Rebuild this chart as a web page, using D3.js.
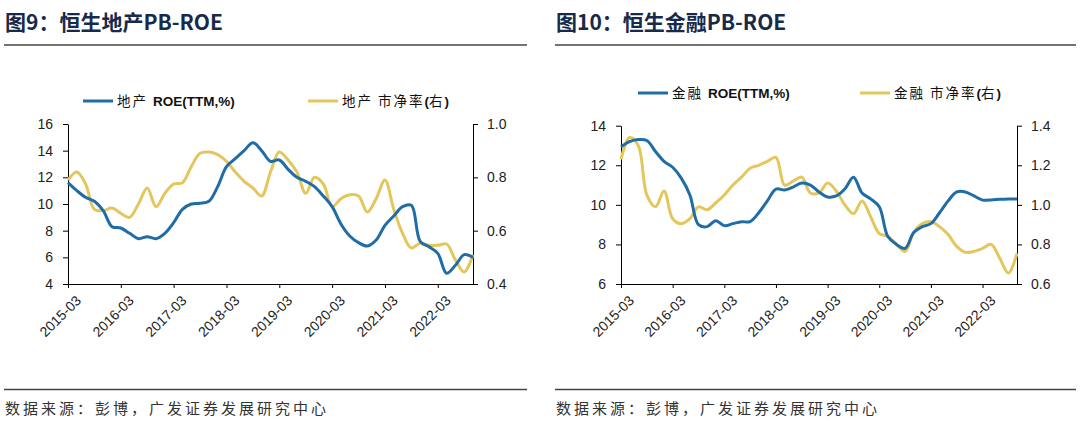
<!DOCTYPE html>
<html>
<head>
<meta charset="utf-8">
<script src="https://cdn.jsdelivr.net/npm/d3@7"></script>
<style>
  body { margin: 0; background: #fff; }
  svg { display: block; font-family: "Liberation Sans", Arial, "Noto Sans CJK SC", sans-serif; }
  .cjk { font-family: "Noto Sans CJK SC", sans-serif; }
  .axis path, .axis line { stroke: #000; stroke-width: 1; }
  .axis text { fill: #222; font-size: 14px; font-family: "Liberation Sans", Arial, sans-serif; }
</style>
</head>
<body>
<svg id="chart" width="1080" height="422"></svg>
<script>
// bimonthly categories
const months = [
  "2015-03","2015-05","2015-07","2015-09","2015-11",
  "2016-01","2016-03","2016-05","2016-07","2016-09","2016-11",
  "2017-01","2017-03","2017-05","2017-07","2017-09","2017-11",
  "2018-01","2018-03","2018-05","2018-07","2018-09","2018-11",
  "2019-01","2019-03","2019-05","2019-07","2019-09","2019-11",
  "2020-01","2020-03","2020-05","2020-07","2020-09","2020-11",
  "2021-01","2021-03","2021-05","2021-07","2021-09","2021-11",
  "2022-01","2022-03","2022-05","2022-07","2022-09","2022-11"
];
const xTicks = ["2015-03","2016-03","2017-03","2018-03","2019-03","2020-03","2021-03","2022-03"];

// 恒生地产
const propertyRoe = [
  11.6, 11.0, 10.5, 10.2, 9.5, 8.3, 8.2, 7.8, 7.4, 7.55, 7.4, 7.8,
  8.6, 9.6, 10.0, 10.05, 10.2, 11.3, 12.8, 13.4, 14.0, 14.6, 14.0, 13.2,
  13.3, 12.6, 12.0, 11.7, 11.3, 10.6, 9.8, 8.5, 7.6, 7.1, 6.85, 7.3,
  8.4, 9.1, 9.8, 9.9, 7.2, 6.8, 6.3, 4.8, 5.4, 6.2, 6.0
];
const propertyPb = [
  0.79, 0.82, 0.775, 0.68, 0.675, 0.685, 0.665, 0.65, 0.70, 0.76, 0.69, 0.74,
  0.775, 0.78, 0.84, 0.89, 0.895, 0.885, 0.86, 0.82, 0.785, 0.76, 0.73, 0.82,
  0.895, 0.865, 0.82, 0.74, 0.80, 0.775, 0.69, 0.72, 0.735, 0.73, 0.67, 0.72,
  0.79, 0.68, 0.59, 0.535, 0.553, 0.545, 0.545, 0.55, 0.49, 0.445, 0.51
];

// 恒生金融
const financeRoe = [
  12.94, 13.2, 13.3, 13.25, 12.7, 12.2, 11.9, 11.35, 10.5, 9.0, 8.9, 9.2,
  8.95, 9.05, 9.15, 9.15, 9.6, 10.2, 10.8, 10.75, 10.9, 11.1, 11.0, 10.65,
  10.4, 10.45, 10.8, 11.4, 10.6, 10.3, 9.9, 8.4, 8.0, 7.8, 8.6, 8.9,
  9.05, 9.6, 10.2, 10.65, 10.65, 10.45, 10.24, 10.25, 10.28, 10.3, 10.3
];
const financePb = [
  1.23, 1.34, 1.30, 1.05, 0.99, 1.07, 0.93, 0.905, 0.93, 0.99, 0.975, 1.01,
  1.05, 1.10, 1.14, 1.185, 1.20, 1.22, 1.24, 1.10, 1.12, 1.14, 1.06, 1.06,
  1.11, 1.07, 1.00, 0.955, 1.02, 0.94, 0.855, 0.84, 0.80, 0.765, 0.86, 0.905,
  0.915, 0.89, 0.85, 0.79, 0.76, 0.765, 0.78, 0.80, 0.73, 0.655, 0.755
];

const leftTicksProperty = [4, 6, 8, 10, 12, 14, 16];
const rightTicksProperty = [0.4, 0.6, 0.8, 1.0];
const leftTicksFinance = [6, 8, 10, 12, 14];
const rightTicksFinance = [0.6, 0.8, 1.0, 1.2, 1.4];

const blue = "#1f6ca6";
const gold = "#e3c65c";
const source = "数据来源：彭博，广发证券发展研究中心";

const svg = d3.select("#chart");

function drawPanel(p) {
  const g = svg.append("g");

  // title + rule
  g.append("text")
    .attr("x", p.x0 + 1).attr("y", 30)
    .attr("fill", "#172a4a")
    .attr("font-size", 21).attr("font-weight", "bold")
    .attr("class", "cjk")
    .text(p.title);
  g.append("line")
    .attr("x1", p.x0).attr("x2", p.x1).attr("y1", 45).attr("y2", 45)
    .attr("stroke", "#444").attr("stroke-width", 1.6);

  // footer
  g.append("line")
    .attr("x1", p.x0).attr("x2", p.x1).attr("y1", 389.5).attr("y2", 389.5)
    .attr("stroke", "#444").attr("stroke-width", 1.6);
  g.append("text")
    .attr("x", p.x0 + 1).attr("y", 414)
    .attr("class", "cjk")
    .attr("font-size", 15).attr("letter-spacing", 3)
    .attr("fill", "#333")
    .text(source);

  const x = d3.scalePoint().domain(months).range([p.l, p.r]);
  const yL = d3.scaleLinear().domain(d3.extent(p.leftTicks)).range([p.b, p.t]);
  const yR = d3.scaleLinear().domain(d3.extent(p.rightTicks)).range([p.b, p.t]);

  g.append("g").attr("class", "axis")
    .attr("transform", `translate(${p.l},0)`)
    .call(d3.axisLeft(yL).tickValues(p.leftTicks).tickSize(5).tickSizeOuter(0).tickPadding(10).tickFormat(d3.format("d")));
  g.append("g").attr("class", "axis")
    .attr("transform", `translate(${p.r},0)`)
    .call(d3.axisRight(yR).tickValues(p.rightTicks).tickSize(5).tickSizeOuter(0).tickPadding(9).tickFormat(d3.format(".1f")));

  const xa = g.append("g").attr("class", "axis")
    .attr("transform", `translate(0,${p.b})`)
    .call(d3.axisBottom(x).tickValues(xTicks).tickSize(4).tickSizeOuter(0));
  xa.selectAll("text")
    .attr("font-size", 14)
    .attr("text-anchor", "end")
    .attr("dy", "0.35em")
    .attr("transform", "translate(5,9) rotate(-45)");

  const lineL = d3.line()
    .x((d, i) => x(months[i])).y(d => yL(d))
    .curve(d3.curveCatmullRom.alpha(0.5));
  const lineR = d3.line()
    .x((d, i) => x(months[i])).y(d => yR(d))
    .curve(d3.curveCatmullRom.alpha(0.5));

  g.append("path").datum(p.pb).attr("d", lineR)
    .attr("fill", "none").attr("stroke", gold).attr("stroke-width", 3);
  g.append("path").datum(p.roe).attr("d", lineL)
    .attr("fill", "none").attr("stroke", blue).attr("stroke-width", 3);

  // legend
  p.legend.forEach(item => {
    g.append("line")
      .attr("x1", item.x).attr("x2", item.x + 30)
      .attr("y1", p.legendY).attr("y2", p.legendY)
      .attr("stroke", item.color).attr("stroke-width", 3);
    const t = g.append("text")
      .attr("x", item.x + 34).attr("y", p.legendY + 5)
      .attr("font-size", 13.5).attr("fill", "#111");
    item.parts.forEach(part => {
      t.append("tspan")
        .attr("class", part.cjk ? "cjk" : null)
        .attr("font-weight", part.cjk ? "normal" : "bold")
        .attr("letter-spacing", part.cjk ? 2 : 0)
        .text(part.text);
    });
  });
}

drawPanel({
  title: "图9：恒生地产PB-ROE",
  x0: 4, x1: 527,
  l: 68, r: 473, t: 124, b: 284,
  leftTicks: leftTicksProperty, rightTicks: rightTicksProperty,
  roe: propertyRoe, pb: propertyPb,
  legendY: 101,
  legend: [
    { x: 83, color: blue, parts: [{ text: "地产 ", cjk: true }, { text: "ROE(TTM,%)" }] },
    { x: 308, color: gold, parts: [{ text: "地产 市净率", cjk: true }, { text: "(" }, { text: "右", cjk: true }, { text: ")" }] }
  ]
});

drawPanel({
  title: "图10：恒生金融PB-ROE",
  x0: 555, x1: 1076,
  l: 621, r: 1017, t: 125.7, b: 284,
  leftTicks: leftTicksFinance, rightTicks: rightTicksFinance,
  roe: financeRoe, pb: financePb,
  legendY: 93,
  legend: [
    { x: 638, color: blue, parts: [{ text: "金融 ", cjk: true }, { text: "ROE(TTM,%)" }] },
    { x: 860, color: gold, parts: [{ text: "金融 市净率", cjk: true }, { text: "(" }, { text: "右", cjk: true }, { text: ")" }] }
  ]
});
</script>
</body>
</html>
